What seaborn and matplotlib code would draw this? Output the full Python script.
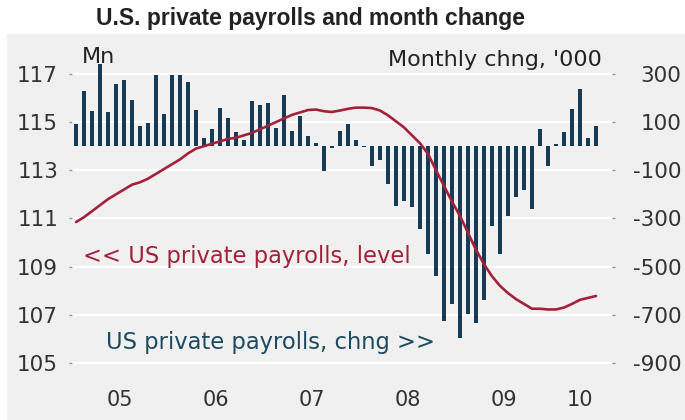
import numpy as np
import pandas as pd
import matplotlib
matplotlib.use("Agg")
import matplotlib.pyplot as plt
from matplotlib.patches import Rectangle
import seaborn as sns

# ---- data (Jan 2005 .. Jun 2010, monthly) ----
month_index = list(range(66))
level_mn = [110.85, 111.05, 111.3, 111.55, 111.8, 112.0, 112.2, 112.4, 112.5, 112.65, 112.85, 113.05,
            113.25, 113.45, 113.7, 113.9, 114.0, 114.1, 114.2, 114.3, 114.35, 114.45, 114.55, 114.7,
            114.85, 115.0, 115.15, 115.3, 115.4, 115.5, 115.52, 115.45, 115.42, 115.48, 115.55, 115.6,
            115.6, 115.58, 115.48, 115.28, 115.03, 114.78, 114.45, 114.12, 113.68, 113.0, 112.35, 111.7,
            111.1, 110.4, 109.7, 109.1, 108.6, 108.2, 107.9, 107.65, 107.45, 107.25, 107.25, 107.22,
            107.22, 107.3, 107.45, 107.62, 107.7, 107.78]
change_k = [90, 228, 145, 340, 140, 260, 274, 191, 83, 98, 297, 135,
            294, 294, 267, 149, 32, 73, 159, 119, 57, 25, 187, 170,
            181, 76, 211, 65, 124, 41, 15, -105, -8, 64, 94, 25,
            -5, -83, -58, -158, -248, -227, -254, -342, -446, -537, -725, -656,
            -796, -695, -735, -639, -330, -446, -288, -213, -183, -259, 73, -83,
            10, 59, 156, 239, 32, 83]
year_labels = ["05", "06", "07", "08", "09", "10"]
year_label_pos = [5.5, 17.5, 29.5, 41.5, 53.5, 63.0]
year_bounds = [-0.5, 11.5, 23.5, 35.5, 47.5, 59.5]
left_ticks = [105, 107, 109, 111, 113, 115, 117]
right_ticks = [-900, -700, -500, -300, -100, 100, 300]

df = pd.DataFrame({"m": month_index, "level": level_mn, "chg": change_k})

RED = "#a3223a"
NAVY = "#173a55"
TEAL = "#1d4a60"
BG = "#f0f0f0"
TXT = "#333333"

sns.set_theme(style="white")
plt.rcParams["font.family"] = ["DejaVu Sans"]

fig = plt.figure(figsize=(6.85, 4.2), dpi=100)
fig.patch.set_facecolor("white")
fig.patches.append(Rectangle((7 / 685, 0), 1, 1 - 34 / 420, transform=fig.transFigure,
                             facecolor=BG, edgecolor="none", zorder=-10))

ax = fig.add_axes([72 / 685, 1 - 368 / 420, 540 / 685, 323 / 420])
ax2 = ax.twinx()
ax.set_zorder(ax2.get_zorder() + 1)
ax.patch.set_visible(False)
ax2.patch.set_visible(False)

# bars on right axis (categorical positions 0..65 == month index)
sns.barplot(data=df, x="m", y="chg", ax=ax2, color=NAVY, width=0.6,
            saturation=1, linewidth=0, zorder=2)
# line on left axis
sns.lineplot(data=df, x="m", y="level", ax=ax, color=RED, linewidth=1.9)

ax.set_xlim(-0.5, 67.0)
ax.set_ylim(104.79, 118.2)
ax2.set_ylim((104.79 - 114) * 100, (118.2 - 114) * 100)

ax.set_yticks(left_ticks)
ax.set_yticklabels([str(t) for t in left_ticks])
ax2.set_yticks(right_ticks)
ax2.set_yticklabels([str(t) for t in right_ticks])
for lab in ax2.get_yticklabels():
    lab.set_horizontalalignment("right")

ax2.grid(axis="y", color="white", linewidth=1.6)
ax2.set_axisbelow(True)
ax.grid(False)

ax.set_xticks(year_label_pos)
ax.set_xticklabels(year_labels)
ax.set_xticks(year_bounds, minor=True)
ax.tick_params(axis="x", which="major", length=0, pad=16, labelsize=15, labelcolor=TXT)
ax.tick_params(axis="x", which="minor", length=5, width=1, color="#777777", direction="out")
ax.tick_params(axis="y", length=2, width=1, color="#999999", pad=8, labelsize=15.5, labelcolor=TXT)
ax2.tick_params(axis="y", length=2, width=1, color="#999999", pad=48, labelsize=15.5, labelcolor=TXT)
ax2.tick_params(axis="x", length=0)

for a in (ax, ax2):
    for s in a.spines.values():
        s.set_visible(False)
ax.set_xlabel("")
ax.set_ylabel("")
ax2.set_xlabel("")
ax2.set_ylabel("")

fig.text(311 / 685, 1 - 18 / 420, "U.S. private payrolls and month change",
         ha="center", va="center", fontsize=16.5, fontweight="bold",
         family="Liberation Sans", color="#222222")
fig.text(82 / 685, 1 - 57 / 420, "Mn", ha="left", va="center", fontsize=16, color="#222222")
fig.text(602 / 685, 1 - 60 / 420, "Monthly chng, '000", ha="right", va="center",
         fontsize=16, color="#222222")
fig.text(83 / 685, 1 - 257 / 420, "<< US private payrolls, level", ha="left", va="center",
         fontsize=16.3, color=RED)
fig.text(106 / 685, 1 - 343 / 420, "US private payrolls, chng >>", ha="left", va="center",
         fontsize=16.3, color=TEAL)

fig.savefig("out.png", dpi=100)
